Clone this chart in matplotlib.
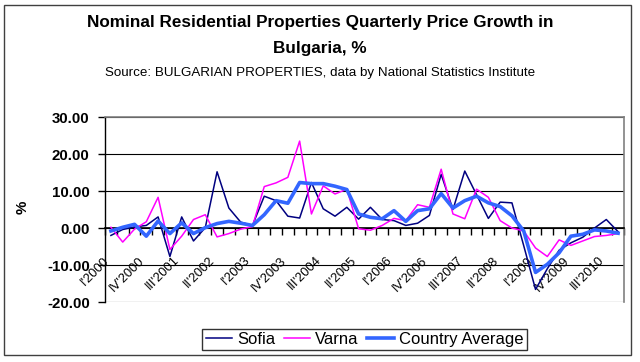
import matplotlib
matplotlib.use('Agg')
import matplotlib.pyplot as plt
import matplotlib.transforms as mtransforms
from matplotlib.patches import Rectangle
import numpy as np

plt.rcParams['font.family'] = ['Liberation Sans', 'DejaVu Sans']

# Quarterly price growth, %, I'2000 .. IV'2010
sofia = [-2.0, -0.4, 0.3, 0.7, 3.0, -7.7, 3.0, -3.5, 0.1, 15.2,
         5.4, 1.6, 0.7, 8.6, 7.4, 3.2, 2.7, 12.3, 5.2, 3.2,
         5.6, 2.4, 5.6, 2.3, 2.0, 0.7, 1.3, 3.4, 14.5, 5.0,
         15.4, 9.0, 2.6, 7.0, 6.8, -4.8, -16.6, -11.0, -6.0, -4.0,
         -2.5, 0.0, 2.3, -1.0]
varna = [0.2, -3.8, -0.3, 1.7, 8.3, -5.8, -2.2, 2.3, 3.6, -2.4,
         -1.5, -0.3, 0.4, 11.2, 12.2, 13.7, 23.5, 3.8, 11.4, 9.2,
         10.5, -0.2, -0.6, 0.7, 2.6, 2.0, 6.3, 5.6, 15.9, 3.8,
         2.5, 10.5, 8.3, 2.0, 0.0, -0.8, -5.4, -7.7, -3.2, -4.7,
         -3.5, -2.3, -2.0, -1.5]
country = [-0.8, 0.2, 1.0, -2.2, 1.9, -1.5, 1.4, -1.5, 0.1, 1.2,
           1.8, 1.3, 0.7, 3.6, 7.4, 6.7, 12.3, 12.0, 12.0, 11.3,
           10.4, 3.8, 2.9, 2.5, 4.7, 1.8, 4.7, 5.2, 9.3, 5.4,
           7.4, 8.6, 6.8, 5.8, 3.3, -0.8, -12.0, -9.8, -6.7, -2.2,
           -1.7, -0.5, -0.8, -1.4]
tick_labels = ["I'2000", "IV'2000", "III'2001", "II'2002", "I'2003",
               "IV'2003", "III'2004", "II'2005", "I'2006", "IV'2006",
               "III'2007", "II'2008", "I'2009", "IV'2009", "III'2010"]
y_ticks = [-20, -10, 0, 10, 20, 30]

x = np.arange(len(sofia))

fig = plt.figure(figsize=(6.4, 3.62), dpi=100)
ax = fig.add_axes([0.1641, 0.1657, 0.8109, 0.511])

ax.plot(x, sofia, color='#000080', lw=1.1, label='Sofia', zorder=3)
ax.plot(x, varna, color='#FF00FF', lw=1.1, label='Varna', zorder=4)
ax.plot(x, country, color='#3366FF', lw=2.6, label='Country Average', zorder=5)

ax.set_xlim(-0.5, len(x) - 0.5)
ax.set_ylim(-20, 30)
ax.set_yticks(y_ticks)
ax.set_yticklabels([f'{v:.2f}' for v in y_ticks], fontsize=10.8, fontweight='bold')
ax.tick_params(axis='y', direction='out', length=5, width=1, pad=6)
ax.yaxis.grid(True, color='black', lw=0.8)
ax.set_axisbelow(True)

# category axis crosses at zero, tick marks between categories
ax.spines['bottom'].set_position(('data', 0))
ax.spines['bottom'].set_linewidth(1.2)
ax.spines['left'].set_linewidth(1.0)
for s in ('top', 'right'):
    ax.spines[s].set_color('#808080')
    ax.spines[s].set_linewidth(1.2)
ax.set_xticks(np.arange(len(x) + 1) - 0.5)
ax.set_xticklabels([])
ax.tick_params(axis='x', which='major', direction='out', length=5, width=1)
ax.set_xticks(x[::3], minor=True)
ax.set_xticklabels(tick_labels, minor=True, rotation=45, ha='right', va='top',
                   rotation_mode='anchor', fontsize=9.3)
ax.tick_params(axis='x', which='minor', length=0, pad=19)
shift = mtransforms.ScaledTranslation(-0.08, 0, fig.dpi_scale_trans)
for lab in ax.xaxis.get_minorticklabels():
    lab.set_transform(lab.get_transform() + shift)

ax.set_ylabel('%', fontsize=10.8, fontweight='bold')
ax.yaxis.set_label_coords(-0.146, 0.514)

fig.text(0.5, 1 - 23 / 362, 'Nominal Residential Properties Quarterly Price Growth in',
         ha='center', va='center', fontsize=12.3, fontweight='bold')
fig.text(0.5, 1 - 48 / 362, 'Bulgaria, %', ha='center', va='center',
         fontsize=12.3, fontweight='bold')
fig.text(0.5, 1 - 73 / 362,
         'Source: BULGARIAN PROPERTIES, data by National Statistics Institute',
         ha='center', va='center', fontsize=9.6)

leg = fig.legend(loc='center', bbox_to_anchor=(364.5 / 640, 1 - 339.5 / 362), ncol=3,
                 fontsize=12, frameon=True, fancybox=False, handlelength=1.6,
                 handletextpad=0.3, columnspacing=0.5, borderpad=0.2)
leg.get_frame().set_edgecolor('black')
leg.get_frame().set_linewidth(1.0)

fig.patches.append(Rectangle((4 / 640, 1 - 355 / 362), 627 / 640, 350 / 362,
                             transform=fig.transFigure, fill=False,
                             edgecolor='#404040', lw=1.0))

fig.savefig('out.png', dpi=100)
